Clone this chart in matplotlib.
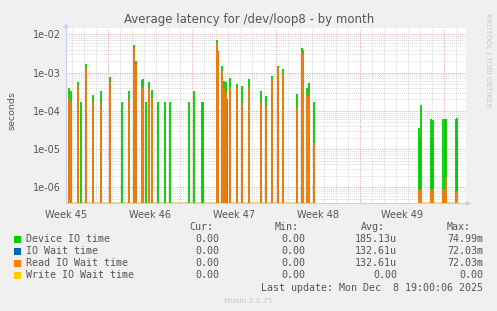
#!/usr/bin/env python3
"""Munin style chart: average latency for /dev/loop8, by month (log scale)."""

import matplotlib
matplotlib.use("Agg")
import matplotlib.pyplot as plt
from matplotlib.patches import Rectangle
import numpy as np

# ─────────────────────────────────────────────────────────────
# Data (time in days, 0 = start of Week 45)
# ─────────────────────────────────────────────────────────────

spike_days = [
    3.73, 3.92, 4.50, 4.75, 5.17, 5.75, 6.42, 7.17, 8.17, 8.73,
    9.18, 9.33, 9.77, 9.93, 10.17, 10.42, 10.67, 11.17, 11.75, 12.17,
    13.75, 14.17, 14.77, 14.93, 16.08, 16.18, 16.50, 16.67, 16.78, 16.92,
    17.17, 17.75, 18.18, 18.75, 19.75, 20.17, 20.60, 21.17, 21.52, 22.75,
    23.12, 23.20, 23.52, 23.62, 23.75, 24.17, 32.92, 33.00, 33.08, 33.92,
    34.00, 34.08, 34.92, 35.06, 35.17, 35.95, 36.02, 36.08,
]

device_io = [
    3.9e-4, 3.2e-4, 5.6e-4, 1.7e-4, 1.65e-3, 2.6e-4, 3.3e-4, 7.5e-4, 1.7e-4, 3.3e-4,
    5.3e-3, 2.0e-3, 6.4e-4, 6.6e-4, 1.7e-4, 5.6e-4, 3.4e-4, 1.7e-4, 1.7e-4, 1.7e-4,
    1.7e-4, 3.3e-4, 1.7e-4, 1.7e-4, 7.1e-3, 3.6e-3, 1.48e-3, 6.1e-4, 5.8e-4, 2.0e-4,
    7.4e-4, 5.0e-4, 4.5e-4, 6.8e-4, 3.2e-4, 2.5e-4, 8.1e-4, 1.5e-3, 1.24e-3, 2.7e-4,
    4.3e-3, 3.8e-3, 3.9e-4, 2.2e-4, 5.2e-4, 1.7e-4, 3.5e-5, 2.0e-5, 1.4e-4, 6.0e-5,
    2.0e-5, 5.6e-5, 6.0e-5, 6.0e-5, 6.0e-5, 6.0e-5, 2.0e-5, 6.5e-5,
]

read_io_wait = [
    2.2e-4, 1.7e-4, 4.7e-4, 0, 1.4e-3, 1.7e-4, 1.5e-4, 5.6e-4, 0, 1.9e-4,
    4.3e-3, 1.65e-3, 4.3e-4, 3.9e-4, 0, 3.9e-4, 2.2e-4, 0, 0, 0,
    0, 0, 0, 0, 5.8e-3, 3.5e-3, 1.1e-3, 3.9e-4, 2.9e-4, 0,
    4.3e-4, 3.9e-4, 1.6e-4, 4.3e-4, 1.7e-4, 1.3e-4, 6.4e-4, 1.3e-3, 1.0e-3, 1.2e-4,
    3.5e-3, 3.0e-3, 2.4e-4, 1.5e-4, 2.7e-4, 1.4e-5, 8.5e-7, 8.0e-7, 9.0e-7, 9.0e-7,
    8.0e-7, 9.0e-7, 9.0e-7, 9.0e-7, 1.9e-6, 8.0e-7, 7.0e-7, 8.0e-7,
]

io_wait = list(read_io_wait)          # identical to read wait
write_io_wait = [0.0] * len(spike_days)

# spans where data is known (zero lines drawn along the bottom)
known_spans = [(3.5, 24.2), (32.8, 36.2)]

week_labels = ["Week 45", "Week 46", "Week 47", "Week 48", "Week 49"]
week_label_days = [3.5, 10.5, 17.5, 24.5, 31.5]
week_starts = [7, 14, 21, 28, 35]

legend_names = ["Device IO time", "IO Wait time", "Read IO Wait time", "Write IO Wait time"]
legend_cur = ["0.00", "0.00", "0.00", "0.00"]
legend_min = ["0.00", "0.00", "0.00", "0.00"]
legend_avg = ["185.13u", "132.61u", "132.61u", "0.00"]
legend_max = ["74.99m", "72.03m", "72.03m", "0.00"]

COLORS = ["#00CC00", "#0066B3", "#FF8000", "#FFCC00"]

X_MIN, X_MAX = 3.5, 3.5 + 400 / 12
Y_MIN, Y_MAX = 10 ** -6.418, 10 ** -1.835

# ─────────────────────────────────────────────────────────────
# Figure
# ─────────────────────────────────────────────────────────────

W, H = 497, 311
fig = plt.figure(figsize=(W / 100, H / 100), dpi=100, facecolor="#F0F0F0")
ax = fig.add_axes([66.3 / W, 1 - 203.3 / H, 400 / W, 175.3 / H])
ax.set_facecolor("white")
ax.set_yscale("log")
ax.set_xlim(X_MIN, X_MAX)
ax.set_ylim(Y_MIN, Y_MAX)

# grid: minor grey dotted, major red dotted
for d in np.arange(4, 37):
    if d not in week_starts:
        ax.axvline(d, color="#c8c8c8", lw=0.6, ls=(0, (1, 1.5)), zorder=0)
for dec in range(-7, -1):
    for m in range(2, 10):
        ax.axhline(m * 10.0 ** dec, color="#c8c8c8", lw=0.6, ls=(0, (1, 1.5)), zorder=0)
for d in week_starts:
    ax.axvline(d, color="#e8a0a0", lw=0.7, ls=(0, (1, 1.5)), zorder=0)
for dec in range(-6, -1):
    ax.axhline(10.0 ** dec, color="#e8a0a0", lw=0.7, ls=(0, (1, 1.5)), zorder=0)

# zero lines along the bottom
for a, b in known_spans:
    ax.hlines(Y_MIN * 1.02, a, b, color="#e8cc80", lw=1.2, zorder=2, clip_on=False)

t = np.array(spike_days)
series = [device_io, io_wait, read_io_wait, write_io_wait]
for vals, col in zip(series, COLORS):
    v = np.array(vals, dtype=float)
    m = v > 0
    if m.any():
        ax.vlines(t[m], Y_MIN, v[m], color=col, lw=1.3, zorder=3)

# axes look
for s in ["top", "right"]:
    ax.spines[s].set_visible(False)
ax.spines["left"].set_color("#c8d0f0")
ax.spines["bottom"].set_color("#c8d0f0")
ax.spines["left"].set_linewidth(0.8)
ax.spines["bottom"].set_linewidth(0.8)
ax.annotate("", xy=(66.3 / W, 1 - 20 / H), xytext=(66.3 / W, 1 - 28 / H),
            xycoords="figure fraction",
            arrowprops=dict(arrowstyle="-|>", color="#c8d0f0", lw=0.8, mutation_scale=7))
ax.annotate("", xy=(474 / W, 1 - 203.3 / H), xytext=(466 / W, 1 - 203.3 / H),
            xycoords="figure fraction",
            arrowprops=dict(arrowstyle="-|>", color="#c8d0f0", lw=0.8, mutation_scale=7))

ax.set_yticks([1e-6, 1e-5, 1e-4, 1e-3, 1e-2])
ax.set_yticklabels(["1e-06", "1e-05", "1e-04", "1e-03", "1e-02"])
ax.yaxis.set_minor_locator(matplotlib.ticker.NullLocator())
ax.set_xticks(week_label_days)
ax.set_xticklabels(week_labels)
ax.tick_params(axis="both", length=0, labelsize=7, labelcolor="#555555", pad=4)
ax.tick_params(axis="x", pad=5)

fig.text(12 / W, 1 - 111 / H, "seconds", rotation=90, ha="center", va="center",
         fontsize=6.8, color="#555555")
fig.text(249 / W, 1 - 19 / H, "Average latency for /dev/loop8 - by month",
         ha="center", va="center", fontsize=8.5, color="#555555")
fig.text(488 / W, 1 - 60 / H, "RRDTOOL / TOBI OETIKER", rotation=270,
         ha="center", va="center", fontsize=5.3, color="#c8c8c8")

# legend
mono = "DejaVu Sans Mono"
fs = 7.2
tc = "#555555"
fig.text(213 / W, 1 - 227 / H, "Cur:", ha="right", va="center", family=mono, fontsize=fs, color=tc)
fig.text(299 / W, 1 - 227 / H, "Min:", ha="right", va="center", family=mono, fontsize=fs, color=tc)
fig.text(385 / W, 1 - 227 / H, "Avg:", ha="right", va="center", family=mono, fontsize=fs, color=tc)
fig.text(471 / W, 1 - 227 / H, "Max:", ha="right", va="center", family=mono, fontsize=fs, color=tc)
for i, name in enumerate(legend_names):
    y = 1 - (239 + 12 * i) / H
    fig.patches.append(Rectangle((14 / W, y - 3.5 / H), 7 / W, 7 / H,
                                 transform=fig.transFigure, facecolor=COLORS[i],
                                 edgecolor="none"))
    fig.text(26 / W, y, name, ha="left", va="center", family=mono, fontsize=fs, color=tc)
    fig.text(219 / W, y, legend_cur[i], ha="right", va="center", family=mono, fontsize=fs, color=tc)
    fig.text(305 / W, y, legend_min[i], ha="right", va="center", family=mono, fontsize=fs, color=tc)
    fig.text(397 / W, y, legend_avg[i], ha="right", va="center", family=mono, fontsize=fs, color=tc)
    fig.text(483 / W, y, legend_max[i], ha="right", va="center", family=mono, fontsize=fs, color=tc)

fig.text(483 / W, 1 - 288 / H, "Last update: Mon Dec  8 19:00:06 2025", ha="right",
         va="center", family=mono, fontsize=fs, color=tc)
fig.text(248 / W, 1 - 301 / H, "Munin 2.0.75", ha="center", va="center",
         fontsize=5.3, color="#c8c8c8")

fig.savefig("out.png", dpi=100, facecolor=fig.get_facecolor())
